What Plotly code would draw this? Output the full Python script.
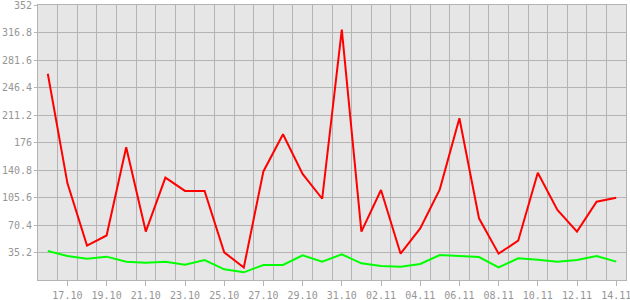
import plotly.graph_objects as go

dates = ["2012-10-%02d" % d for d in range(16, 32)] + ["2012-11-%02d" % d for d in range(1, 15)]

red_values = [264, 124, 44, 57, 170, 62, 131, 114, 114, 35.4, 16, 139, 186.5, 135.7, 104,
              320.4, 62, 115.2, 33.7, 66, 116, 207, 79, 33.7, 50.3, 137.3, 89.6, 62, 100.2, 105.3]
green_values = [37.1, 30.7, 27.3, 29.9, 23.5, 22.2, 23.5, 19.6, 25.6, 13.7, 9.8, 19.2, 19.2, 31.6, 23.5,
                32.8, 21.3, 17.9, 17.1, 20.5, 32, 31, 29.4, 16.2, 27.7, 26, 23.5, 25.6, 30.7, 23.5]

y_ticks = [35.2, 70.4, 105.6, 140.8, 176, 211.2, 246.4, 281.6, 316.8, 352]
y_tick_text = ["35.2", "70.4", "105.6", "140.8", "176", "211.2", "246.4", "281.6", "316.8", "352"]

grid = "#b4b4b4"
label = "#969696"
font = dict(family="DejaVu Sans Mono", size=10, color=label)

fig = go.Figure()
fig.add_trace(go.Scatter(x=dates, y=red_values, mode="lines",
                         line=dict(color="#ff0000", width=2), hoverinfo="skip"))
fig.add_trace(go.Scatter(x=dates, y=green_values, mode="lines",
                         line=dict(color="#00ff00", width=2), hoverinfo="skip"))

fig.update_layout(
    width=630, height=300,
    margin=dict(l=38, r=4, t=5, b=20),
    paper_bgcolor="white", plot_bgcolor="#e6e6e6",
    showlegend=False,
    font=font,
)
fig.update_xaxes(
    type="date",
    range=["2012-10-15 12:00", "2012-11-14 12:00"],
    tick0="2012-10-17", dtick=2 * 86400000,
    tickformat="%d.%m",
    showgrid=False,
    ticks="outside", ticklen=5, tickcolor=grid, tickwidth=1,
    ticklabelstandoff=1,
    ticklabeloverflow="allow",
    automargin=False,
    showline=True, linecolor=grid, linewidth=1, mirror=True,
    tickfont=font,
    minor=dict(tick0="2012-10-15 12:00", dtick=86400000, showgrid=True,
               gridcolor=grid, gridwidth=1, ticks=""),
    zeroline=False,
)
fig.update_yaxes(
    range=[0, 352],
    tickvals=y_ticks, ticktext=y_tick_text,
    showgrid=True, gridcolor=grid, gridwidth=1,
    ticks="outside", ticklen=3, tickcolor=grid, tickwidth=1,
    ticklabeloverflow="allow",
    automargin=False,
    showline=True, linecolor=grid, linewidth=1, mirror=True,
    tickfont=font,
    zeroline=False,
)

fig.write_html("out.html")
